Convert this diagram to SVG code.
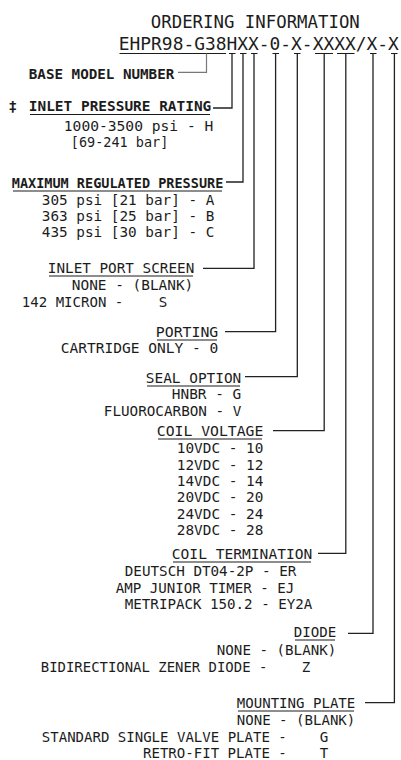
<svg xmlns="http://www.w3.org/2000/svg" width="401" height="760" viewBox="0 0 401 760">
<style>
.t{font-family:"DejaVu Sans Mono","Liberation Mono",monospace;font-size:14.2px;fill:#1c1c1c}
.b{font-weight:bold}
.m{text-anchor:middle}
.ul{stroke:#1c1c1c;stroke-width:1.1;fill:none}
.ln{stroke:#222;stroke-width:1.3;fill:none}
.gr{stroke:#777;stroke-width:1.2;fill:none}
</style>
<rect width="401" height="760" fill="#fff"/>
<g id="title">
<text class="t" x="150.8" y="28" style="font-size:17.3px" textLength="209" lengthAdjust="spacingAndGlyphs">ORDERING INFORMATION</text>
<text class="t" x="118.8" y="50" style="font-size:17.8px" textLength="280" lengthAdjust="spacingAndGlyphs">EHPR98-G38HXX-0-X-XXXX/X-X</text>
<path class="ul" d="M119.5,53.5H226M229,53.5h6.5M240,53.5h6.5M251,53.5h6.5M272.5,53.5h6.5M294,53.5h6.5M315,53.5h18M337,53.5h17.5M370,53.5h6.5M391,53.5h6.5"/>
</g>
<g id="connectors">
<path class="gr" d="M178,72.3H206.5V53.5"/>
<path class="ln" d="M213,108H232V53.5"/>
<path class="ln" d="M226,182H243V53.5"/>
<path class="ln" d="M203,268.3H254V53.5"/>
<path class="ln" d="M225,331.7H275.6V53.5"/>
<path class="ln" d="M245,376.7H297.3V53.5"/>
<path class="ln" d="M273,430.7H324.2V53.5"/>
<path class="ln" d="M318,553.3H345.8V53.5"/>
<path class="ln" d="M348,633.3H373V53.5"/>
<path class="ln" d="M365,702.7H394.4V53.5"/>
</g>
<g id="base-model">
<text class="t b" x="28.8" y="79" textLength="145.5" lengthAdjust="spacingAndGlyphs">BASE MODEL NUMBER</text>
</g>
<g id="inlet-pressure">
<text class="t b" x="8.5" y="111">‡</text>
<text class="t b" x="28.8" y="111" textLength="182.5" lengthAdjust="spacingAndGlyphs">INLET PRESSURE RATING</text>
<path class="ul" d="M30,114.5H210"/>
<text class="t" x="63.8" y="131" textLength="149.5" lengthAdjust="spacingAndGlyphs">1000-3500 psi - H</text>
<text class="t" x="70.8" y="147" textLength="97.5" lengthAdjust="spacingAndGlyphs">[69-241 bar]</text>
</g>
<g id="max-regulated">
<text class="t b" x="11.8" y="188" textLength="211.5" lengthAdjust="spacingAndGlyphs">MAXIMUM REGULATED PRESSURE</text>
<path class="ul" d="M13,191H222"/>
<text class="t" x="41.8" y="205" textLength="172.5" lengthAdjust="spacingAndGlyphs">305 psi [21 bar] - A</text>
<text class="t" x="41.8" y="221" textLength="172.5" lengthAdjust="spacingAndGlyphs">363 psi [25 bar] - B</text>
<text class="t" x="41.8" y="237" textLength="172.5" lengthAdjust="spacingAndGlyphs">435 psi [30 bar] - C</text>
</g>
<g id="inlet-port-screen">
<text class="t" x="47.8" y="273" textLength="146.5" lengthAdjust="spacingAndGlyphs">INLET PORT SCREEN</text>
<path class="ul" d="M49,276H193"/>
<text class="t" x="71.8" y="290" textLength="121.5" lengthAdjust="spacingAndGlyphs">NONE - (BLANK)</text>
<text class="t" x="21.8" y="307" textLength="101.5" lengthAdjust="spacingAndGlyphs">142 MICRON -</text>
<text class="t m" x="163" y="307">S</text>
</g>
<g id="porting">
<text class="t" x="155.8" y="337" textLength="62.5" lengthAdjust="spacingAndGlyphs">PORTING</text>
<path class="ul" d="M157,340H217"/>
<text class="t" x="60.8" y="353" textLength="157.5" lengthAdjust="spacingAndGlyphs">CARTRIDGE ONLY - 0</text>
</g>
<g id="seal-option">
<text class="t" x="145.8" y="383" textLength="95.5" lengthAdjust="spacingAndGlyphs">SEAL OPTION</text>
<path class="ul" d="M147,386H240"/>
<text class="t" x="171.8" y="399" textLength="69.5" lengthAdjust="spacingAndGlyphs">HNBR - G</text>
<text class="t" x="103.8" y="416" textLength="137.5" lengthAdjust="spacingAndGlyphs">FLUOROCARBON - V</text>
</g>
<g id="coil-voltage">
<text class="t" x="156.8" y="436" textLength="106.5" lengthAdjust="spacingAndGlyphs">COIL VOLTAGE</text>
<path class="ul" d="M158,439H262"/>
<text class="t" x="176.8" y="453" textLength="86.5" lengthAdjust="spacingAndGlyphs">10VDC - 10</text>
<text class="t" x="176.8" y="469.5" textLength="86.5" lengthAdjust="spacingAndGlyphs">12VDC - 12</text>
<text class="t" x="176.8" y="486" textLength="86.5" lengthAdjust="spacingAndGlyphs">14VDC - 14</text>
<text class="t" x="176.8" y="502" textLength="86.5" lengthAdjust="spacingAndGlyphs">20VDC - 20</text>
<text class="t" x="176.8" y="518.5" textLength="86.5" lengthAdjust="spacingAndGlyphs">24VDC - 24</text>
<text class="t" x="176.8" y="535" textLength="86.5" lengthAdjust="spacingAndGlyphs">28VDC - 28</text>
</g>
<g id="coil-termination">
<text class="t" x="171.8" y="559" textLength="140.5" lengthAdjust="spacingAndGlyphs">COIL TERMINATION</text>
<path class="ul" d="M173,562H311"/>
<text class="t" x="124.8" y="576" textLength="171.5" lengthAdjust="spacingAndGlyphs">DEUTSCH DT04-2P - ER</text>
<text class="t" x="115.8" y="592.5" textLength="178.5" lengthAdjust="spacingAndGlyphs">AMP JUNIOR TIMER - EJ</text>
<text class="t" x="124.8" y="609" textLength="187.5" lengthAdjust="spacingAndGlyphs">METRIPACK 150.2 - EY2A</text>
</g>
<g id="diode">
<text class="t" x="293.8" y="637" textLength="42.5" lengthAdjust="spacingAndGlyphs">DIODE</text>
<path class="ul" d="M295,640H335"/>
<text class="t" x="216.8" y="655" textLength="119.5" lengthAdjust="spacingAndGlyphs">NONE - (BLANK)</text>
<text class="t" x="40.8" y="672" textLength="226.5" lengthAdjust="spacingAndGlyphs">BIDIRECTIONAL ZENER DIODE -</text>
<text class="t m" x="306" y="672">Z</text>
</g>
<g id="mounting-plate">
<text class="t" x="236.8" y="708" textLength="118.5" lengthAdjust="spacingAndGlyphs">MOUNTING PLATE</text>
<path class="ul" d="M238,711H354"/>
<text class="t" x="236.8" y="725" textLength="118.5" lengthAdjust="spacingAndGlyphs">NONE - (BLANK)</text>
<text class="t" x="41.8" y="742" textLength="245" lengthAdjust="spacingAndGlyphs">STANDARD SINGLE VALVE PLATE -</text>
<text class="t m" x="324" y="742">G</text>
<text class="t" x="143" y="758" textLength="143.8" lengthAdjust="spacingAndGlyphs">RETRO-FIT PLATE -</text>
<text class="t m" x="324" y="758">T</text>
</g>
</svg>
